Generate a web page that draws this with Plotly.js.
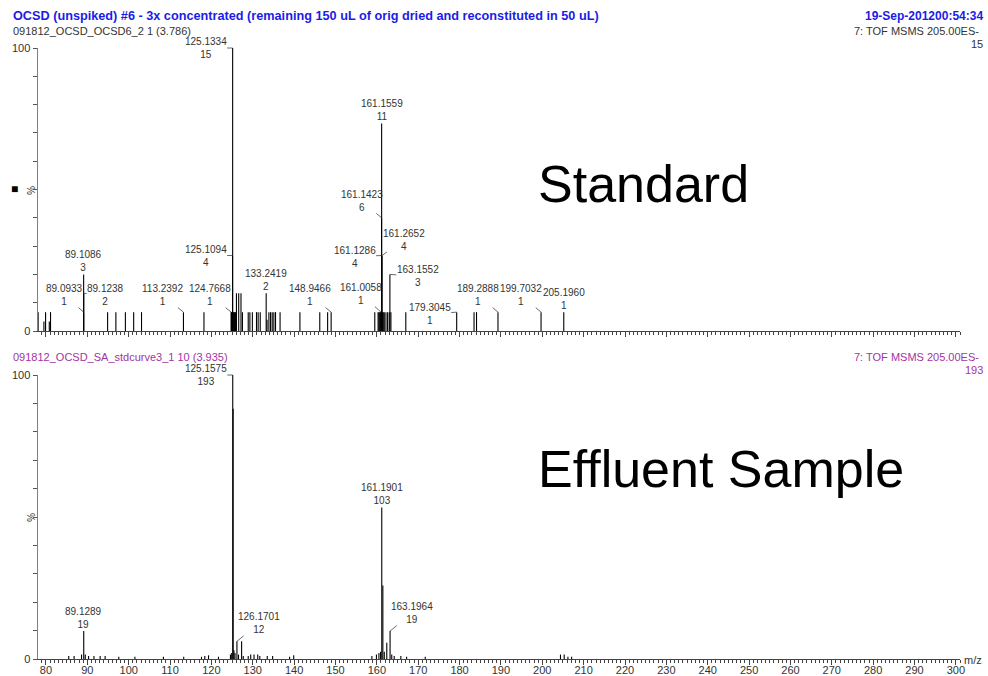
<!DOCTYPE html>
<html>
<head>
<meta charset="utf-8">
<script src="https://cdn.plot.ly/plotly-3.0.1.min.js"></script>
<style>html,body{margin:0;padding:0;background:#fff;}#chart{width:988px;height:676px;}</style>
</head>
<body>
<div id="chart"></div>
<script>
// ---------- DATA ----------
// Standard (top) spectrum: m/z and raw intensity counts (base peak = 15)
const topMz = [78.1, 79.5, 79.9, 80.8, 81.1,
  89.0933, 89.1086, 89.1238,
  94.9, 96.9, 99.2, 101.2, 103.1, 113.2392, 118.2,
  124.7668, 124.85, 124.95, 125.05, 125.1094, 125.1334, 125.25, 125.4, 125.55, 125.7, 125.85,
  126.05, 126.6, 127.15, 127.5,
  128.9, 129.3, 129.9, 130.9, 131.3, 131.8,
  133.2419, 133.45, 133.9, 134.3, 134.7, 135.1, 135.5, 136.6,
  141.4, 146.2, 148.1, 148.9466,
  159.5, 160.3, 160.5, 160.7, 160.85, 161.0058, 161.1286, 161.1423, 161.1559, 161.2652, 161.4, 161.55, 161.8, 162.2, 162.6, 163.0, 163.1552, 163.4, 167.0,
  179.3045, 183.5, 184.1, 189.2888, 199.7032, 205.1960];
const topCounts = [1, 0.5, 1, 0.5, 1,
  1, 3, 2,
  1, 1, 1, 1, 1, 1, 1,
  1, 1, 1, 1, 4, 15, 1, 1, 1, 1, 1,
  2, 2, 2, 1,
  1, 1, 1, 1, 1, 1,
  2, 0.6, 1, 1, 1, 1, 1, 1,
  1, 1, 1, 1,
  1, 1, 1, 1, 1, 1, 4, 6, 11, 4, 1, 1, 1, 1, 1, 1, 3, 1, 1,
  1, 1, 1, 1, 1, 1];
const topBase = 15;

// Effluent sample (bottom) spectrum: m/z and raw intensity counts (base peak = 193)
const bottomMz = [85.5, 86.8, 88.6, 89.1289, 89.5, 90.3, 91.6, 93.1, 94.3, 97.6, 101.5, 108.4, 113.3, 117.6, 118.4, 119.3, 121.7,
  124.6, 124.9, 125.1575, 125.25, 125.45, 125.7, 126.1701, 126.55, 127.3, 127.7, 128.9, 129.5, 130.3, 131.2, 131.7, 133.5, 134.8, 138.9, 139.9,
  158.8, 159.9, 160.5, 160.9, 161.1901, 161.45, 161.8, 162.4, 163.1964, 163.6, 164.2, 165.8, 167.2, 171.7,
  204.4, 205.3, 206.2, 207.1];
const bottomCounts = [2, 2, 3, 19, 3, 2, 2, 2, 2, 1.5, 1.5, 1.5, 1.5, 1.5, 2, 2.5, 1.5,
  3, 4, 193, 170, 6, 4, 12, 3, 12, 2, 2, 3, 3, 3, 2, 2, 2, 1.5, 2.5,
  2, 3, 4, 5, 103, 50, 5, 11, 19, 3, 2, 2, 1.5, 1.5,
  3, 3, 1.5, 1.5];
const bottomBase = 193;

// Labelled peaks
const topLabelMz = [125.1334, 161.1559, 161.1423, 161.2652, 161.1286, 163.1552, 161.0058, 179.3045, 189.2888,
  199.7032, 205.1960, 148.9466, 133.2419, 124.7668, 125.1094, 113.2392, 89.1086, 89.0933, 89.1238];
const bottomLabelMz = [125.1575, 161.1901, 89.1289, 126.1701, 163.1964];

// Axis ticks
const xTickVals = [80, 90, 100, 110, 120, 130, 140, 150, 160, 170, 180, 190, 200, 210, 220, 230, 240, 250, 260, 270, 280, 290, 300];
const yTickVals = [0, 10, 20, 30, 40, 50, 60, 70, 80, 90, 100];
const yTickText = ['0', '', '', '', '', '', '', '', '', '', '100'];

// Texts
const mainTitle = 'OCSD (unspiked) #6 - 3x concentrated (remaining 150 uL of orig dried and reconstituted in 50 uL)';
const dateText = '19-Sep-201200:54:34';
const topFile = '091812_OCSD_OCSD6_2 1 (3.786)';
const bottomFile = '091812_OCSD_SA_stdcurve3_1 10 (3.935)';
const scanText = '7: TOF MSMS 205.00ES-';
const topPanelName = 'Standard';
const bottomPanelName = 'Effluent Sample';

// ---------- LAYOUT HELPERS ----------
// label placement: [ax, ay] pixel offsets of text from peak top; null = directly above
const topLabelPlace = [[-27, 0], null, [-20, -17], [22, -16], [-27, 1], [28, 2], [-20, -18], [-27, 2], [-20, -17],
  [-20, -17], null, [-21, -17], null, [-21, -17], [-27, 0], [-21, -17], null, [-19, -17], [22, 2]];
const bottomLabelPlace = [[-27, 0], null, null, [22, -18], [22, -18]];

const FONT = '"Liberation Sans", Arial, sans-serif';
const L = 38, R = 960, T = 48, B = 659;
const px = x => (x - L) / (R - L);
const py = y => (B - y) / (B - T);

function sticks(mz, counts, base, xa, ya) {
  const x = [], y = [];
  for (let i = 0; i < mz.length; i++) {
    x.push(mz[i], mz[i], null);
    y.push(0, counts[i] / base * 100, null);
  }
  return {x, y, xaxis: xa, yaxis: ya, type: 'scatter', mode: 'lines',
    line: {color: '#000', width: 1.1}, hoverinfo: 'skip', showlegend: false};
}

function labels(labMz, place, mz, counts, base, xref, yref) {
  return labMz.map((m, i) => {
    const k = mz.indexOf(m);
    const c = counts[k];
    const a = {
      x: m, y: c / base * 100, xref, yref,
      text: m.toFixed(4) + '<br>' + c,
      font: {family: FONT, size: 10, color: '#333'},
      borderpad: 0
    };
    const p = place[i];
    if (p) {
      Object.assign(a, {showarrow: true, ax: p[0], ay: p[1], arrowhead: 0, arrowwidth: 0.8,
        arrowcolor: '#444', standoff: 0, startstandoff: 0});
    } else {
      Object.assign(a, {showarrow: false, xanchor: 'center', yanchor: 'bottom', yshift: 0});
    }
    return a;
  });
}

function txt(text, x, y, anchor, color, size, extra) {
  return Object.assign({xref: 'paper', yref: 'paper', x: px(x), y: py(y), text,
    showarrow: false, xanchor: anchor, yanchor: 'middle',
    font: {family: FONT, size: size, color: color}}, extra || {});
}

const xBase = {
  range: [78.07, 301.0], showgrid: false, zeroline: false, showline: true,
  linecolor: '#444', linewidth: 1, ticks: 'outside', tickmode: 'array', tickvals: xTickVals,
  ticklen: 5, tickwidth: 1, tickcolor: '#444',
  minor: {dtick: 1, tick0: 0, ticks: 'outside', ticklen: 3, tickcolor: '#444', tickwidth: 1, showgrid: false},
  tickfont: {family: FONT, size: 11, color: '#333'}, fixedrange: true
};
const yBase = {
  range: [0, 100], showgrid: false, zeroline: false, showline: true,
  linecolor: '#808080', linewidth: 1.5, ticks: 'outside', ticklen: 4, tickcolor: '#555', tickwidth: 1,
  tickmode: 'array', tickvals: yTickVals, ticktext: yTickText,
  tickfont: {family: FONT, size: 11, color: '#333'}, fixedrange: true
};

const blue = '#1c1ce6', purple = '#a234a2', grey = '#333';

const annotations = [
  txt('<b>' + mainTitle + '</b>', 11, 16, 'left', blue, 12.7),
  txt('<b>' + dateText + '</b>', 985, 16, 'right', blue, 12),
  txt(topFile, 11, 31, 'left', grey, 11),
  txt(scanText, 981, 31, 'right', grey, 11),
  txt(String(topBase), 985, 44, 'right', grey, 11),
  txt(bottomFile, 11, 357, 'left', purple, 11),
  txt(scanText, 981, 357, 'right', purple, 11),
  txt(String(bottomBase), 985, 370, 'right', purple, 11),
  txt('m/z', 962, 660, 'left', grey, 11),
  txt('%', 31, 190, 'center', grey, 10, {textangle: 90}),
  txt('%', 31, 517, 'center', grey, 10, {textangle: 90}),
  txt('■', 14, 189, 'center', '#000', 12),
  txt(topPanelName, 536, 184, 'left', '#000', 52),
  txt(bottomPanelName, 536, 469, 'left', '#000', 52)
].concat(
  labels(topLabelMz, topLabelPlace, topMz, topCounts, topBase, 'x', 'y'),
  labels(bottomLabelMz, bottomLabelPlace, bottomMz, bottomCounts, bottomBase, 'x2', 'y2')
);

const layout = {
  width: 988, height: 676,
  margin: {l: L, r: 988 - R, t: T, b: 676 - B, pad: 0},
  paper_bgcolor: '#fff', plot_bgcolor: '#fff',
  showlegend: false,
  font: {family: FONT, color: '#333'},
  xaxis: Object.assign({}, xBase, {anchor: 'y', showticklabels: false}),
  yaxis: Object.assign({}, yBase, {domain: [py(331), 1], anchor: 'x'}),
  xaxis2: Object.assign({}, xBase, {anchor: 'y2', showticklabels: true, ticklabelstandoff: -4}),
  yaxis2: Object.assign({}, yBase, {domain: [0, py(375)], anchor: 'x2'}),
  annotations
};

Plotly.newPlot('chart', [
  sticks(topMz, topCounts, topBase, 'x', 'y'),
  sticks(bottomMz, bottomCounts, bottomBase, 'x2', 'y2')
], layout, {displayModeBar: false, staticPlot: true});
</script>
</body>
</html>
